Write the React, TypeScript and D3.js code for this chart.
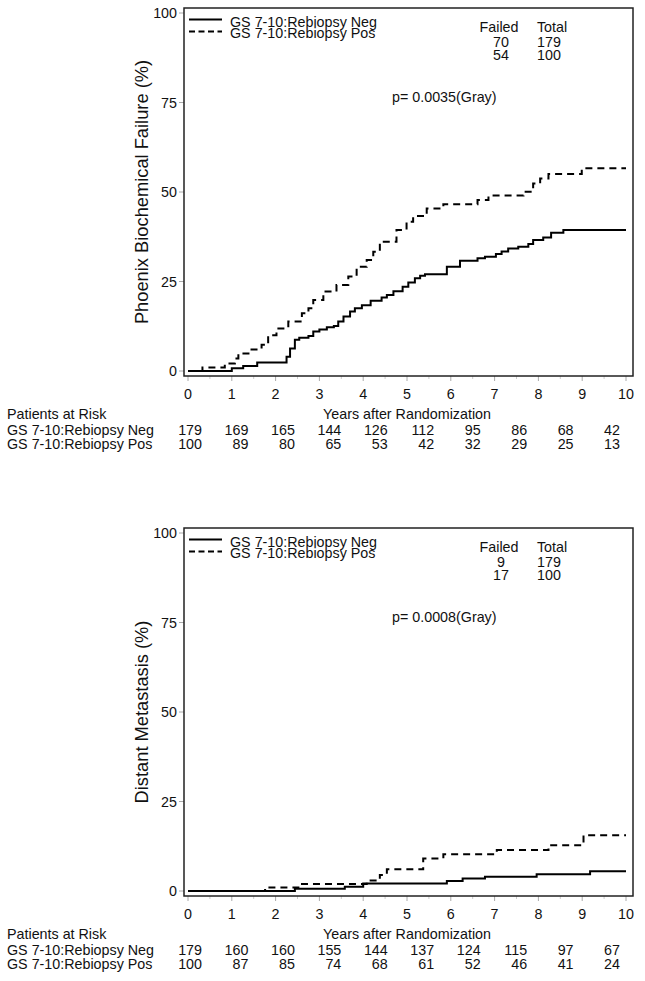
import React from 'react';
import * as d3 from 'd3';

type Pt = [number, number];

const xTicks = [0, 1, 2, 3, 4, 5, 6, 7, 8, 9, 10];
const xMinorTicks = [0.5, 1.5, 2.5, 3.5, 4.5, 5.5, 6.5, 7.5, 8.5, 9.5];
const yTicks = [0, 25, 50, 75, 100];
const riskIdx = [0, 1, 2, 3, 4, 5, 6, 7, 8, 9];
const groupNames = ['GS 7-10:Rebiopsy Neg', 'GS 7-10:Rebiopsy Pos'];

// Phoenix biochemical failure (cumulative incidence, %)
const bcfNeg: Pt[] = [
  [0, 0], [1.0, 0.75], [1.26, 1.4], [1.58, 2.4], [2.21, 2.4], [2.25, 4.0], [2.33, 6.3], [2.44, 8.7],
  [2.54, 9.3], [2.75, 9.8], [2.86, 11.0], [3.0, 11.6], [3.17, 12.2], [3.33, 12.6], [3.43, 13.8],
  [3.55, 15.2], [3.7, 16.6], [3.81, 17.5], [3.97, 18.4], [4.17, 19.6], [4.42, 20.5], [4.54, 21.2],
  [4.69, 22.3], [4.9, 23.5], [5.03, 24.7], [5.18, 25.9], [5.3, 26.6], [5.41, 27.0], [5.91, 29.1],
  [6.21, 30.8], [6.61, 31.5], [6.78, 31.9], [7.03, 32.7], [7.16, 33.4], [7.31, 34.2], [7.54, 34.7],
  [7.77, 35.5], [7.88, 36.6], [8.11, 37.3], [8.29, 38.6], [8.57, 39.4],
];
const bcfPos: Pt[] = [
  [0, 0], [0.33, 1.0], [0.84, 2.1], [1.07, 3.5], [1.15, 4.9], [1.42, 6.0], [1.68, 7.3], [1.83, 10.0],
  [2.02, 11.9], [2.29, 13.8], [2.6, 16.1], [2.75, 17.5], [2.86, 19.8], [3.09, 22.2], [3.39, 24.0],
  [3.66, 26.4], [3.85, 29.1], [4.08, 31.0], [4.23, 33.3], [4.38, 36.1], [4.76, 39.4], [4.99, 41.7],
  [5.14, 43.3], [5.45, 45.4], [5.83, 46.6], [6.61, 47.8], [6.86, 49.0], [7.66, 50.1], [7.88, 52.4],
  [8.04, 53.8], [8.23, 55.0], [8.99, 56.6],
];

// Distant metastasis (cumulative incidence, %)
const dmNeg: Pt[] = [
  [0, 0], [2.44, 0.65], [3.58, 1.2], [4.0, 2.1], [5.91, 2.8], [6.27, 3.5], [6.78, 4.0], [7.96, 4.7], [9.18, 5.5],
];
const dmPos: Pt[] = [
  [0, 0], [1.76, 1.0], [2.52, 1.96], [4.08, 2.9], [4.38, 4.5], [4.54, 6.05], [5.37, 9.1], [5.83, 10.3],
  [7.05, 11.45], [8.23, 12.8], [9.03, 15.6],
];

const riskBcfNeg = [179, 169, 165, 144, 126, 112, 95, 86, 68, 42];
const riskBcfPos = [100, 89, 80, 65, 53, 42, 32, 29, 25, 13];
const riskDmNeg = [179, 160, 160, 155, 144, 137, 124, 115, 97, 67];
const riskDmPos = [100, 87, 85, 74, 68, 61, 52, 46, 41, 24];

const bcfFailed = [70, 54];
const bcfTotal = [179, 100];
const dmFailed = [9, 17];
const dmTotal = [179, 100];

const FONT = "'Liberation Sans', Arial, Helvetica, sans-serif";

interface PanelProps {
  dy: number;
  yLabel: string;
  neg: Pt[];
  pos: Pt[];
  failed: number[];
  totals: number[];
  pText: string;
  riskNeg: number[];
  riskPos: number[];
}

function Panel({ dy, yLabel, neg, pos, failed, totals, pText, riskNeg, riskPos }: PanelProps) {
  const x = d3.scaleLinear().domain([0, 10]).range([188, 626]);
  const y = d3.scaleLinear().domain([0, 100]).range([371 + dy, 13 + dy]);
  const rx = d3.scaleLinear().domain([0, 9]).range([202, 620]);
  const line = d3
    .line<Pt>()
    .x((d) => x(d[0]))
    .y((d) => y(d[1]))
    .curve(d3.curveStepAfter);
  const ext = (s: Pt[]): Pt[] => [...s, [10, s[s.length - 1][1]]];

  const fl = 184, fr = 633, ft = 8 + dy, fb = 376 + dy;
  const fs = 14.3;

  return (
    <g fontFamily={FONT} fontSize={fs} fill="#111">
      {/* ticks */}
      {xTicks.map((t) => (
        <line key={'xt' + t} x1={x(t)} x2={x(t)} y1={fb} y2={fb + 5} stroke="#aaa" strokeWidth={1} />
      ))}
      {xMinorTicks.map((t) => (
        <line key={'xm' + t} x1={x(t)} x2={x(t)} y1={fb} y2={fb + 3} stroke="#ccc" strokeWidth={1} />
      ))}
      {yTicks.map((v) => (
        <line key={'yt' + v} x1={fl - 5} x2={fl} y1={y(v)} y2={y(v)} stroke="#aaa" strokeWidth={1} />
      ))}
      {/* frame */}
      <rect x={fl} y={ft} width={fr - fl} height={fb - ft} fill="none" stroke="#222" strokeWidth={1.5} />

      {/* tick labels */}
      {xTicks.map((t) => (
        <text key={'xl' + t} x={x(t)} y={399 + dy} textAnchor="middle">
          {t}
        </text>
      ))}
      {yTicks.map((v) => (
        <text key={'yl' + v} x={177} y={y(v) + 5} textAnchor="end">
          {v}
        </text>
      ))}
      <text
        transform={`translate(148,${192 + dy}) rotate(-90)`}
        textAnchor="middle"
        fontSize={18.3}
      >
        {yLabel}
      </text>

      {/* curves */}
      <path d={line(ext(neg)) || ''} fill="none" stroke="#000" strokeWidth={2} />
      <path d={line(ext(pos)) || ''} fill="none" stroke="#000" strokeWidth={2} strokeDasharray="7,5" />

      {/* legend */}
      <line x1={189} x2={222} y1={19.5 + dy} y2={19.5 + dy} stroke="#000" strokeWidth={2} />
      <line x1={189} x2={222} y1={31.5 + dy} y2={31.5 + dy} stroke="#000" strokeWidth={2} strokeDasharray="6,3.5" />
      <text x={230} y={26.5 + dy}>{groupNames[0]}</text>
      <text x={230} y={38 + dy}>{groupNames[1]}</text>

      {/* failed / total */}
      <text x={499} y={32 + dy} textAnchor="middle">Failed</text>
      <text x={552} y={32 + dy} textAnchor="middle">Total</text>
      {failed.map((f, i) => (
        <text key={'f' + i} x={501} y={46.5 + dy + i * 13.5} textAnchor="middle">
          {f}
        </text>
      ))}
      {totals.map((f, i) => (
        <text key={'t' + i} x={549} y={46.5 + dy + i * 13.5} textAnchor="middle">
          {f}
        </text>
      ))}
      <text x={392} y={102 + dy}>{pText}</text>

      {/* risk table */}
      <text x={7} y={419 + dy}>Patients at Risk</text>
      <text x={x(5)} y={419 + dy} textAnchor="middle">Years after Randomization</text>
      <text x={7} y={435 + dy}>{groupNames[0]}</text>
      <text x={7} y={449 + dy}>{groupNames[1]}</text>
      {riskIdx.map((i) => (
        <text key={'rn' + i} x={rx(i)} y={435 + dy} textAnchor="end">
          {riskNeg[i]}
        </text>
      ))}
      {riskIdx.map((i) => (
        <text key={'rp' + i} x={rx(i)} y={449 + dy} textAnchor="end">
          {riskPos[i]}
        </text>
      ))}
    </g>
  );
}

export default function App() {
  return (
    <svg
      width={645}
      height={981}
      viewBox="0 0 645 981"
      style={{ position: 'absolute', left: 0, top: 0, background: '#fff' }}
    >
      <rect x={0} y={0} width={645} height={981} fill="#fff" />
      <Panel
        dy={0}
        yLabel="Phoenix Biochemical Failure (%)"
        neg={bcfNeg}
        pos={bcfPos}
        failed={bcfFailed}
        totals={bcfTotal}
        pText="p= 0.0035(Gray)"
        riskNeg={riskBcfNeg}
        riskPos={riskBcfPos}
      />
      <Panel
        dy={520}
        yLabel="Distant Metastasis (%)"
        neg={dmNeg}
        pos={dmPos}
        failed={dmFailed}
        totals={dmTotal}
        pText="p= 0.0008(Gray)"
        riskNeg={riskDmNeg}
        riskPos={riskDmPos}
      />
    </svg>
  );
}
